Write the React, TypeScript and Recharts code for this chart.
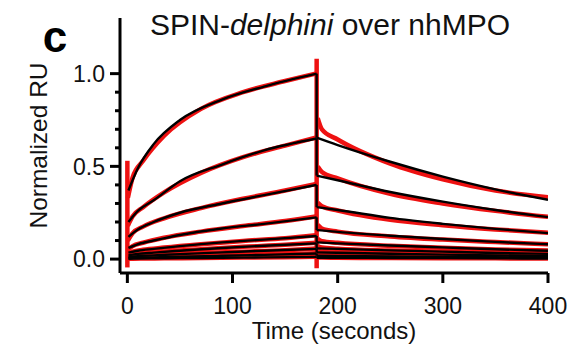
import { LineChart, Line, XAxis, YAxis, Label } from 'recharts'

// time points (seconds)
const ASSOC_T = [1, 10, 25, 50, 90, 130, 180]
const DISSOC_T = [180, 200, 250, 300, 350, 400]
const DATA_ASSOC_T = [0.5, 5, 15, 35, 70, 110, 150, 179]
const DATA_DISSOC_T = [181, 185, 200, 250, 300, 350, 400]

// black fitted curves
const FIT_ASSOC = [
  [0.37, 0.49, 0.62, 0.75, 0.86, 0.93, 1.0],
  [0.2, 0.26, 0.317, 0.42, 0.51, 0.586, 0.65],
  [0.12, 0.16, 0.2, 0.25, 0.3, 0.345, 0.4],
  [0.06, 0.08, 0.1, 0.13, 0.165, 0.19, 0.225],
  [0.035, 0.045, 0.055, 0.07, 0.09, 0.105, 0.125],
  [0.02, 0.028, 0.035, 0.045, 0.06, 0.072, 0.085],
  [0.012, 0.016, 0.02, 0.027, 0.036, 0.045, 0.055],
  [0.005, 0.007, 0.009, 0.013, 0.018, 0.023, 0.03],
  [0.002, 0.003, 0.004, 0.005, 0.007, 0.009, 0.012],
]
const FIT_DISSOC = [
  [0.655, 0.615, 0.525, 0.445, 0.376, 0.32],
  [0.45, 0.425, 0.362, 0.31, 0.265, 0.226],
  [0.28, 0.265, 0.222, 0.19, 0.163, 0.14],
  [0.157, 0.147, 0.126, 0.108, 0.093, 0.08],
  [0.09, 0.085, 0.073, 0.063, 0.053, 0.045],
  [0.058, 0.055, 0.047, 0.04, 0.033, 0.028],
  [0.036, 0.034, 0.029, 0.024, 0.02, 0.016],
  [0.018, 0.017, 0.014, 0.012, 0.01, 0.008],
  [0.007, 0.007, 0.006, 0.005, 0.004, 0.003],
]

// red measured sensorgrams
const DATA_ASSOC = [
  [0.33, 0.44, 0.53, 0.665, 0.81, 0.9, 0.96, 1.0],
  [0.18, 0.23, 0.28, 0.36, 0.465, 0.55, 0.612, 0.655],
  [0.1, 0.14, 0.175, 0.22, 0.275, 0.325, 0.37, 0.405],
  [0.05, 0.07, 0.088, 0.115, 0.148, 0.178, 0.205, 0.23],
  [0.028, 0.04, 0.05, 0.062, 0.08, 0.098, 0.112, 0.128],
  [0.015, 0.024, 0.03, 0.04, 0.053, 0.066, 0.077, 0.088],
  [0.01, 0.014, 0.018, 0.023, 0.032, 0.04, 0.048, 0.057],
  [0.004, 0.006, 0.008, 0.011, 0.016, 0.02, 0.026, 0.031],
  [0.001, 0.002, 0.003, 0.004, 0.006, 0.008, 0.01, 0.012],
]
const DATA_DISSOC = [
  [0.76, 0.7, 0.645, 0.515, 0.43, 0.37, 0.333],
  [0.5, 0.47, 0.435, 0.352, 0.3, 0.26, 0.228],
  [0.305, 0.285, 0.262, 0.212, 0.183, 0.16, 0.142],
  [0.185, 0.165, 0.148, 0.122, 0.105, 0.092, 0.08],
  [0.11, 0.097, 0.088, 0.072, 0.061, 0.052, 0.046],
  [0.07, 0.062, 0.056, 0.046, 0.039, 0.032, 0.028],
  [0.045, 0.04, 0.035, 0.029, 0.024, 0.019, 0.016],
  [0.025, 0.021, 0.018, 0.014, 0.012, 0.01, 0.008],
  [0.01, 0.008, 0.007, 0.006, 0.005, 0.004, 0.003],
]

// injection spikes at start / end of association
const SPIKE_T = [0, 180]
const SPIKE_TOP = [0.53, 1.08]
const SPIKE_BOTTOM = [-0.045, -0.05]

const X_TICKS = [0, 100, 200, 300, 400]
const Y_TICKS = [0, 0.1, 0.2, 0.3, 0.4, 0.5, 0.6, 0.7, 0.8, 0.9, 1.0]
const Y_LABELED = [0, 0.5, 1.0]

const RED = '#ee1111'
const FONT = '"Liberation Sans", Arial, sans-serif'

const pts = (ts: number[], vs: number[]) => ts.map((t, i) => ({ t, v: vs[i] }))

function YTick(props: any) {
  const { x, y, payload } = props
  const major = Y_LABELED.some(v => Math.abs(v - payload.value) < 1e-6)
  return (
    <g>
      <line x1={x - (major ? 10 : 5)} x2={x} y1={y} y2={y} stroke="#000" strokeWidth={3} />
      {major && (
        <text x={x - 15} y={y} dy="0.36em" textAnchor="end" fontSize={23} fontFamily={FONT} fill="#111">
          {payload.value.toFixed(1)}
        </text>
      )}
    </g>
  )
}

function XTick(props: any) {
  const { x, y, payload } = props
  return (
    <g>
      <line x1={x} x2={x} y1={y} y2={y + 10} stroke="#000" strokeWidth={3} />
      <text x={x} y={y + 41} textAnchor="middle" fontSize={23} fontFamily={FONT} fill="#111">
        {payload.value}
      </text>
    </g>
  )
}

export default function App() {
  const line = (key: string, data: any[], color: string, w: number, type: any = 'monotone') => (
    <Line key={key} data={data} dataKey="v" type={type} stroke={color} strokeWidth={w}
      dot={false} activeDot={false} isAnimationActive={false} />
  )

  return (
    <div style={{ position: 'absolute', left: 0, top: 0, width: 581, height: 344, background: '#fff' }}>
      <LineChart width={581} height={344} margin={{ top: 18, right: 33, bottom: 0, left: 0 }}>
        <XAxis dataKey="t" type="number" domain={[-7, 400]} ticks={X_TICKS} allowDataOverflow
          axisLine={{ stroke: '#000', strokeWidth: 3 }} tickLine={false} tickSize={0} tickMargin={0}
          tick={<XTick />} height={71} interval={0}>
          <Label value="Time (seconds)" position="insideBottom" offset={5}
            style={{ fontSize: 24, fontFamily: FONT, fill: '#111' }} />
        </XAxis>
        <YAxis type="number" domain={[-0.075, 1.3]} ticks={Y_TICKS} allowDataOverflow
          axisLine={{ stroke: '#000', strokeWidth: 3 }} tickLine={false} tickSize={0} tickMargin={0}
          tick={<YTick />} width={120} interval={0}>
          <Label value="Normalized RU" angle={-90} position="insideLeft" offset={38}
            style={{ fontSize: 24.5, fontFamily: FONT, fill: '#111', textAnchor: 'middle' }} />
        </YAxis>

        {SPIKE_T.map((t, i) =>
          line(`spike${i}`, [{ t, v: SPIKE_TOP[i] }, { t, v: SPIKE_BOTTOM[i] }], RED, 4.5, 'linear'))}
        {DATA_ASSOC.map((vs, i) => line(`da${i}`, pts(DATA_ASSOC_T, vs), RED, 4.5))}
        {DATA_DISSOC.map((vs, i) => line(`dd${i}`, pts(DATA_DISSOC_T, vs), RED, 4.5))}

        {FIT_ASSOC.map((vs, i) => line(`fa${i}`, pts(ASSOC_T, vs), '#000', 2.4))}
        {FIT_DISSOC.map((vs, i) => line(`fd${i}`, pts(DISSOC_T, vs), '#000', 2.4))}
        {FIT_ASSOC.map((vs, i) =>
          line(`fj${i}`, [{ t: 180, v: vs[vs.length - 1] }, { t: 180, v: FIT_DISSOC[i][0] }], '#000', 2.4, 'linear'))}
      </LineChart>
      <svg width={581} height={344} style={{ position: 'absolute', left: 0, top: 0, pointerEvents: 'none' }}>
        <text x={55} y={52} textAnchor="middle" fontSize={44} fontWeight="bold" fontFamily={FONT} fill="#000">c</text>
        <text x={330} y={35} textAnchor="middle" fontSize={30} fontFamily={FONT} fill="#111">
          SPIN-<tspan fontStyle="italic">delphini</tspan> over nhMPO
        </text>
      </svg>
    </div>
  )
}
